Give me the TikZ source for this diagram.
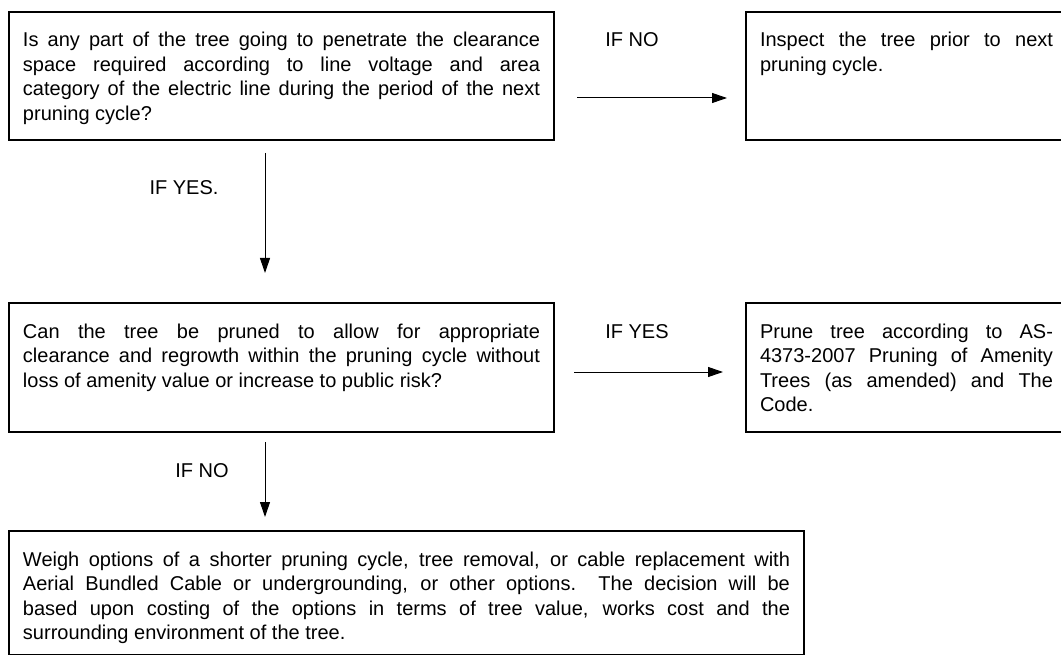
\documentclass[tikz,border=0pt]{standalone}
\usepackage{fontspec}
\setmainfont{Liberation Sans}
\usepackage{tikz}
\usetikzlibrary{arrows.meta}
\tolerance=10000
\hbadness=10000
\tikzstyle{box}=[draw, line width=1.6pt, inner xsep=14pt, inner ysep=0pt, outer sep=0pt,
  anchor=north west, align=justify, text height=35pt, font=\fontsize{20pt}{24.5pt}\selectfont]
\tikzstyle{lbl}=[inner sep=0pt, anchor=base, font=\fontsize{20pt}{24.5pt}\selectfont]
\tikzstyle{flow}=[line width=1pt, -{Triangle[length=15pt,width=10pt]}]

\begin{document}
\begin{tikzpicture}[x=1pt,y=-1pt]
  \useasboundingbox (0,0) rectangle (1061,655);

  \node[box, text width=517pt, text depth=93pt] (q1) at (9,12)
    {Is any part of the tree going to penetrate the clearance\linebreak space required according to line voltage and area\linebreak category of the electric line during the period of the next\linebreak pruning cycle?};
  \node[box, text width=293pt, text depth=93pt] (a1) at (746,12)
    {Inspect the tree prior to next\linebreak pruning cycle.};
  \node[box, text width=517pt, text depth=94pt] (q2) at (9,303)
    {Can the tree be pruned to allow for appropriate\linebreak clearance and regrowth within the pruning cycle without\linebreak loss of amenity value or increase to public risk?};
  \node[box, text width=293pt, text depth=94pt] (a2) at (746,303)
    {Prune tree according to AS-\linebreak 4373-2007 Pruning of Amenity\linebreak Trees (as amended) and The\linebreak Code.};
  \node[box, text width=767pt, text depth=88.5pt] (a3) at (9,531)
    {Weigh options of a shorter pruning cycle, tree removal, or cable replacement with\linebreak Aerial Bundled Cable or undergrounding, or other options.\ \ The decision will be\linebreak based upon costing of the options in terms of tree value, works cost and the\linebreak surrounding environment of the tree.};

  \node[lbl] (no1) at (632,47) {IF NO};
  \node[lbl] (yes1) at (184,195) {IF YES.};
  \node[lbl] (yes2) at (637,338) {IF YES};
  \node[lbl] (no2) at (202,477) {IF NO};

  % yes/no branches
  \draw[flow] (q1.east)+(23pt,-22pt) -- ([shift={(-19pt,-22pt)}]a1.west);
  \draw[flow] (q1.south)+(-16.5pt,-13pt) -- ([shift={(-16.5pt,30pt)}]q2.north);
  \draw[flow] (q2.east)+(20pt,-4.5pt) -- ([shift={(-23pt,-4.5pt)}]a2.west);
  \draw[flow] (q2.south)+(-16.5pt,-10pt) -- ([shift={(-141.5pt,14pt)}]a3.north);
\end{tikzpicture}
\end{document}
